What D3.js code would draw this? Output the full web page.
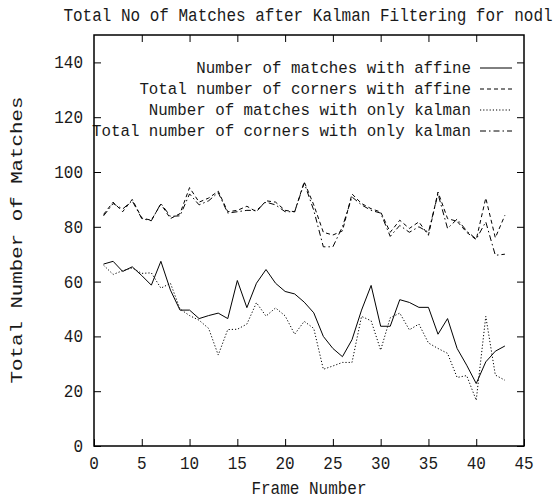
<!DOCTYPE html>
<html>
<head>
<meta charset="utf-8">
<script src="https://cdn.jsdelivr.net/npm/d3@7"></script>
<style>
  html, body { margin: 0; padding: 0; background: #fff; }
  svg text { font-family: "Courier New", "Liberation Mono", monospace; font-size: 16px; fill: #1a1a1a; }
</style>
</head>
<body>
<svg id="chart" width="556" height="501"></svg>
<script>
// Frame index 1..43
const frames = [1,2,3,4,5,6,7,8,9,10,11,12,13,14,15,16,17,18,19,20,21,22,23,24,25,26,27,28,29,30,31,32,33,34,35,36,37,38,39,40,41,42,43];

const matchesAffine = [66.4,67.4,63.7,65.4,62.2,58.7,67.4,56.9,49.6,49.6,46.5,47.6,48.5,46.5,60.4,50.5,59.4,64.4,59.4,56.4,55.5,52.5,48.6,40,35.6,32.6,38.8,49.6,58.6,43.7,43.7,53.4,52.4,50.6,50.6,40.8,46.5,35.6,29.5,22.8,30.7,34.6,36.5];
const cornersAffine = [84.5,89,85.5,90,83.2,82.4,88.3,83,84.8,94.3,89,90.5,93,85.5,86,87.5,85.5,89.5,89,86,85.5,96.4,88,78,77,78.5,92,88.5,86.6,85.4,78,82.4,79.4,81.8,76.9,92.7,83,82,78,75.3,90.5,76,84.2];
const matchesKalman = [66,62.6,64,65,63,63.2,57.6,59.4,50,47.6,45.9,42.9,33.2,42.5,42.6,44.5,52.3,47.4,50.4,47.5,40.8,45.5,42.9,28,29.2,30.5,30.5,47.3,45.7,35,46.8,48.5,42.4,44.5,37.6,35.6,33.8,25,25.7,16.7,47.3,25.9,24];
const cornersKalman = [84,88.5,86.5,89.5,83,82.2,88.5,83.8,84,92,88,89.5,92.5,85,85.5,86,86,89,88,85.5,85.5,96,86,72.7,72.7,80,90.9,88,86,85,76.5,80.5,78,80,78,92,79.4,82.8,78.5,75.5,81.8,69.6,70];

const xTicks = [0,5,10,15,20,25,30,35,40,45];
const yTicks = [0,20,40,60,80,100,120,140];

const seriesNames = [
  "Number of matches with affine",
  "Total number of corners with affine",
  "Number of matches with only kalman",
  "Total number of corners with only kalman"
];
const seriesValues = [matchesAffine, cornersAffine, matchesKalman, cornersKalman];
const seriesDash = [null, "4,3", "1.2,2", "6,3,1.5,3"];

const svg = d3.select("#chart");
const plotLeft = 94, plotRight = 524, plotTop = 35, plotBottom = 446;

const x = d3.scaleLinear().domain([0, 45]).range([plotLeft, plotRight]);
const y = d3.scaleLinear().domain([0, 150]).range([plotBottom, plotTop]);

// Text drawn with a slight vertical stretch (tall monospace look)
function label(txt, tx, ty, anchor, opts = {}) {
  const sy = opts.stretch || 1.12;
  const t = svg.append("text")
    .attr("text-anchor", anchor)
    .attr("transform", `translate(${tx},${ty}) scale(1,${sy})` + (opts.rot ? ` rotate(${opts.rot})` : ""))
    .text(txt);
  if (opts.size) t.style("font-size", opts.size + "px");
  return t;
}

// Axes on all four sides, ticks pointing inward
const tickLen = 7;
svg.append("g").attr("transform", `translate(0,${plotBottom})`)
  .call(d3.axisBottom(x).tickValues(xTicks).tickSize(-tickLen).tickFormat(""))
  .call(g => g.select(".domain").remove());
svg.append("g").attr("transform", `translate(0,${plotTop})`)
  .call(d3.axisTop(x).tickValues(xTicks.slice(1, -1)).tickSize(-tickLen).tickFormat(""))
  .call(g => g.select(".domain").remove());
svg.append("g").attr("transform", `translate(${plotLeft},0)`)
  .call(d3.axisLeft(y).tickValues(yTicks).tickSize(-tickLen).tickFormat(""))
  .call(g => g.select(".domain").remove());
svg.append("g").attr("transform", `translate(${plotRight},0)`)
  .call(d3.axisRight(y).tickValues(yTicks).tickSize(-tickLen).tickFormat(""))
  .call(g => g.select(".domain").remove());
svg.selectAll(".tick line").attr("stroke", "#000").attr("stroke-width", 1);

// Tick labels
xTicks.forEach(v => label(String(v), x(v), 469, "middle", { stretch: 1.2 }));
yTicks.forEach(v => label(String(v), 83, y(v) + 6, "end", { stretch: 1.2 }));

// Series lines
const line = d3.line().x((d, i) => x(frames[i])).y(d => y(d));
seriesValues.forEach((vals, k) => {
  svg.append("path")
    .datum(vals)
    .attr("fill", "none")
    .attr("stroke", "#000")
    .attr("stroke-width", 1)
    .attr("stroke-dasharray", seriesDash[k])
    .attr("d", line);
});

// Legend
const legendY = [68, 89, 110, 131];
seriesNames.forEach((name, k) => {
  label(name, 471, legendY[k] + 5, "end", { size: 15.8, stretch: 1.05 });
  svg.append("line")
    .attr("x1", 480).attr("x2", 512)
    .attr("y1", legendY[k]).attr("y2", legendY[k])
    .attr("stroke", "#000").attr("stroke-width", 1)
    .attr("stroke-dasharray", seriesDash[k]);
});

// Plot border
svg.append("rect")
  .attr("x", plotLeft).attr("y", plotTop)
  .attr("width", plotRight - plotLeft).attr("height", plotBottom - plotTop)
  .attr("fill", "none").attr("stroke", "#000").attr("stroke-width", 1.5);

// Titles
label("Total No of Matches after Kalman Filtering for nodl", 308, 21, "middle", { stretch: 1.2 });
label("Frame Number", 309, 494, "middle", { stretch: 1.2 });
label("Total Number of Matches", 22, 240, "middle", { rot: -90, stretch: 1.3 });
</script>
</body>
</html>
